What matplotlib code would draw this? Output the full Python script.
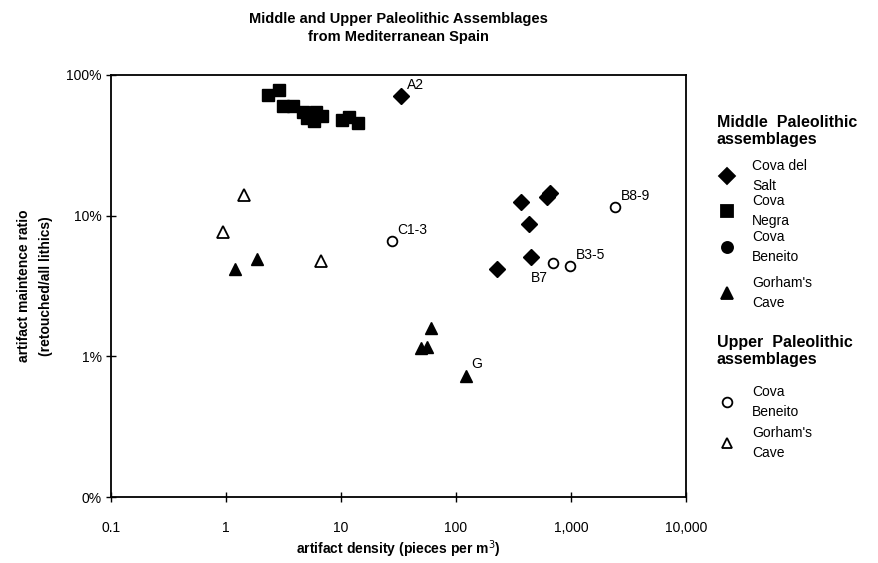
import matplotlib
matplotlib.use("Agg")
import matplotlib.pyplot as plt
from matplotlib.lines import Line2D
from matplotlib.ticker import FixedLocator, FixedFormatter, NullLocator

plt.rcParams['font.family'] = ['Liberation Sans', 'DejaVu Sans']

# Middle Paleolithic
salt_x = [33.3, 367, 656, 615, 431, 449, 227]
salt_y = [70.5, 12.6, 14.4, 13.5, 8.7, 5.1, 4.2]

negra_x = [2.3, 2.89, 3.12, 3.82, 4.66, 5.05, 5.8, 6.05, 6.8, 5.6, 10.2, 11.7, 14.0]
negra_y = [71.6, 77.8, 59.8, 59.8, 54.3, 49.2, 46.8, 55.0, 51.5, 52.5, 47.5, 50.0, 45.3]

gorham_mp_x = [1.2, 1.86, 60.7, 49.7, 56.0, 122]
gorham_mp_y = [4.2, 4.9, 1.6, 1.14, 1.16, 0.72]

# Upper Paleolithic
beneito_up_x = [27.7, 2416, 697, 977]
beneito_up_y = [6.6, 11.5, 4.6, 4.4]

gorham_up_x = [1.44, 0.94, 6.7]
gorham_up_y = [14.1, 7.6, 4.8]

# point labels
label_names = ['A2', 'C1-3', 'B8-9', 'B3-5', 'B7', 'G']
label_x = [33.3, 27.7, 2416, 977, 697, 122]
label_y = [70.5, 6.6, 11.5, 4.4, 4.6, 0.72]
label_off = [(4, 3), (4, 3), (4, 3), (4, 3), (-16, -16), (4, 4)]

x_ticks = [0.1, 1, 10, 100, 1000, 10000]
x_labels = ['0.1', '1', '10', '100', '1,000', '10,000']
y_ticks = [0.1, 1, 10, 100]
y_labels = ['0%', '1%', '10%', '100%']

fig = plt.figure(figsize=(8.79, 5.63), dpi=100)
ax = fig.add_axes([0.1263, 0.1172, 0.6542, 0.7496])

ax.plot(negra_x, negra_y, 's', color='black', markersize=8, linestyle='none')
ax.plot(salt_x, salt_y, 'D', color='black', markersize=8, linestyle='none')
ax.plot(gorham_mp_x, gorham_mp_y, '^', color='black', markersize=8, linestyle='none')
ax.plot(beneito_up_x, beneito_up_y, 'o', markerfacecolor='white', markeredgecolor='black',
        markeredgewidth=1.3, markersize=7, linestyle='none')
ax.plot(gorham_up_x, gorham_up_y, '^', markerfacecolor='white', markeredgecolor='black',
        markeredgewidth=1.3, markersize=8, linestyle='none')

for name, lx, ly, off in zip(label_names, label_x, label_y, label_off):
    ax.annotate(name, (lx, ly), xytext=off, textcoords='offset points',
                fontsize=10, ha='left', va='bottom')

ax.set_xscale('log')
ax.set_yscale('log')
ax.set_xlim(0.1, 10000)
ax.set_ylim(0.1, 100)
ax.xaxis.set_major_locator(FixedLocator(x_ticks))
ax.xaxis.set_major_formatter(FixedFormatter(x_labels))
ax.yaxis.set_major_locator(FixedLocator(y_ticks))
ax.yaxis.set_major_formatter(FixedFormatter(y_labels))
ax.xaxis.set_minor_locator(NullLocator())
ax.yaxis.set_minor_locator(NullLocator())
ax.tick_params(direction='inout', length=7, width=1, labelsize=10)
ax.tick_params(axis='x', pad=14)
ax.tick_params(axis='y', pad=3)
for s in ax.spines.values():
    s.set_linewidth(1.3)

ax.set_xlabel('artifact density (pieces per m$^3$)', fontsize=10, fontweight='bold', labelpad=2)
ax.set_ylabel('artifact maintence ratio\n(retouched/all lithics)', fontsize=10,
              fontweight='bold', labelpad=10, linespacing=1.7)
fig.text(0.453, 0.950, 'Middle and Upper Paleolithic Assemblages\nfrom Mediterranean Spain',
         ha='center', va='center', fontsize=10.5, fontweight='bold', linespacing=1.4)

# legend drawn by hand
def head(y, txt):
    fig.text(717 / 879, 1 - y / 563, txt, fontsize=11.5, fontweight='bold',
             ha='left', va='center', linespacing=1.2)

def entry(y, marker, filled, txt, ms):
    fc = 'black' if filled else 'white'
    fig.add_artist(Line2D([727 / 879], [1 - y / 563], marker=marker, markersize=ms,
                          markerfacecolor=fc, markeredgecolor='black', markeredgewidth=1.3,
                          linestyle='none', transform=fig.transFigure))
    fig.text(752 / 879, 1 - y / 563, txt, fontsize=10, ha='left', va='center',
             linespacing=1.55)

head(131, 'Middle  Paleolithic\nassemblages')
entry(176, 'D', True, 'Cova del\nSalt', 8)
entry(211, 's', True, 'Cova\nNegra', 8)
entry(247, 'o', True, 'Cova\nBeneito', 8)
entry(293, '^', True, "Gorham's\nCave", 8)
head(351, 'Upper  Paleolithic\nassemblages')
entry(402, 'o', False, 'Cova\nBeneito', 7)
entry(443, '^', False, "Gorham's\nCave", 7)

fig.savefig('out.png', dpi=100)
